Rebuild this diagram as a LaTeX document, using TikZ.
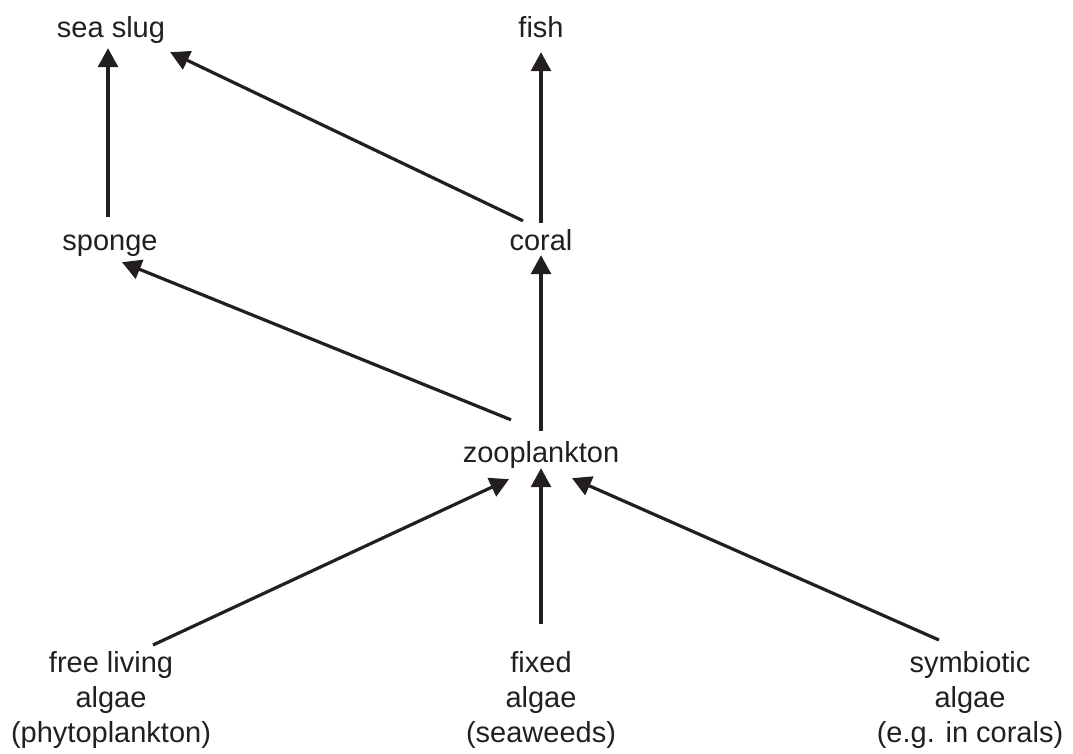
\documentclass[tikz,border=0pt]{standalone}
\usepackage{fontspec}
\setmainfont{Liberation Sans}
\usetikzlibrary{arrows.meta}
\definecolor{ink}{RGB}{35,31,32}
\tikzset{
  organism/.style={inner sep=0pt, text=ink, font=\fontsize{29}{35}\selectfont, text height=21pt, text depth=6pt, anchor=base},
  algae/.style={inner sep=0pt, text=ink, font=\fontsize{29}{35}\selectfont, align=center, anchor=north},
  feeds/.style={draw=ink, line width=3.2pt, -{Triangle[length=19pt,width=20pt]}}
}
\begin{document}
\begin{tikzpicture}[x=1pt,y=-1pt]
\useasboundingbox (0,0) rectangle (1073,754);

% Top consumers
\node[organism] (seaslug) at (111,38) {sea slug};
\node[organism] (fish) at (541,38) {fish};
% Middle level
\node[organism] (sponge) at (110,250) {sponge};
\node[organism] (coral) at (541,250) {coral};
\node[organism] (zoo) at (541,462) {zooplankton};
% Producers
\node[algae] (free) at (111,651) {free living\\algae\\(phytoplankton)};
\node[algae] (fixed) at (541,651) {fixed\\algae\\(seaweeds)};
\node[algae] (symb) at (970,651) {symbiotic\\algae\\(e.g. in corals)};

% Feeding links
\draw[feeds] ([xshift=-2pt,yshift=12pt]sponge.north) -- ([xshift=-3pt,yshift=-4pt]seaslug.south);
\draw[feeds] ([xshift=-18pt,yshift=8pt]coral.north) -- ([xshift=5pt,yshift=-8pt]seaslug.south east);
\draw[feeds] ([yshift=6pt]coral.north) -- ([yshift=-8pt]fish.south);
\draw[feeds] ([xshift=-30pt,yshift=21pt]zoo.north) -- ([xshift=12pt,yshift=-6pt]sponge.south);
\draw[feeds] ([yshift=10pt]zoo.north) -- ([yshift=1pt]coral.south);
\draw[feeds] ([xshift=42pt,yshift=6pt]free.north) -- ([xshift=-32pt,yshift=-11pt]zoo.south);
\draw[feeds] ([yshift=27pt]fixed.north) -- (zoo.south);
\draw[feeds] ([xshift=-31pt,yshift=11pt]symb.north) -- ([xshift=31pt,yshift=-10pt]zoo.south);

\end{tikzpicture}
\end{document}
